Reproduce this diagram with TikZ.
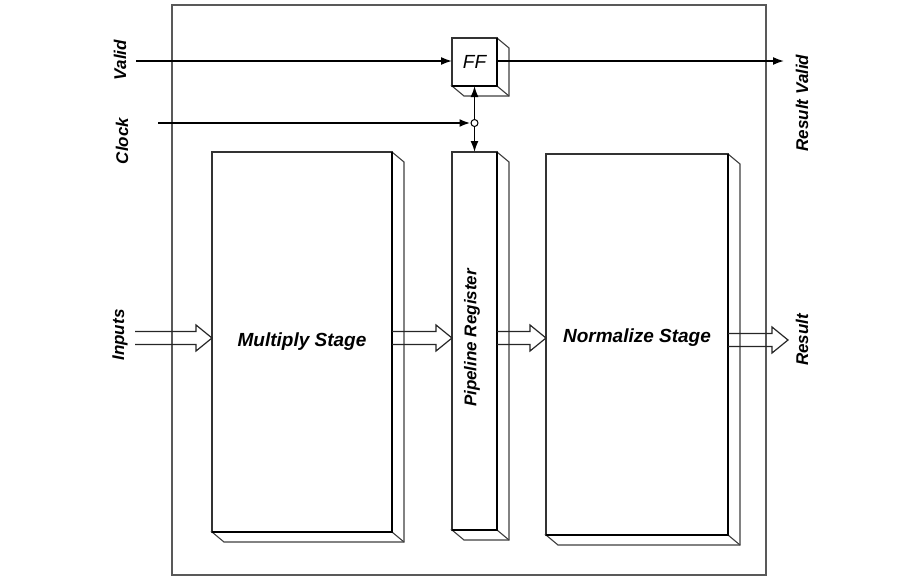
\documentclass[tikz,border=0pt]{standalone}
\usepackage{fontspec}
\setmainfont{Liberation Sans}
\usetikzlibrary{arrows.meta,calc}
\newcommand\threeDside[1]{%
  \draw[side] (#1.north east) -- ++(12,10) -- ($(#1.south east)+(12,10)$) -- ($(#1.south west)+(12,10)$) -- (#1.south west) -- (#1.south east) -- cycle;
  \draw[side] (#1.south east) -- ++(12,10);
  \draw[line width=0.9pt] (#1.north east) -- (#1.south east) -- (#1.south west);
}
\newcommand\hollowarrow[2]{%
  \draw[bus] ($(#1)+(0,-6.5)$) -- ($(#2)+(-16,-6.5)$) -- ($(#2)+(-16,-13)$) -- (#2) -- ($(#2)+(-16,13)$) -- ($(#2)+(-16,6.5)$) -- ($(#1)+(0,6.5)$);
}
\begin{document}
\begin{tikzpicture}[x=0.5pt,y=-0.5pt,
  lbl/.style={font=\fontsize{8.5}{10}\selectfont\bfseries\itshape, inner sep=0, rotate=90},
  stagetxt/.style={font=\fontsize{9.5}{11}\selectfont\bfseries\itshape, inner sep=0},
  face/.style={draw=black!80, line width=0.6pt, fill=white, inner sep=0, outer sep=0},
  side/.style={draw=black!75, line width=0.55pt, fill=white},
  sig/.style={line width=0.8pt, -{Latex[length=5.5pt,width=4pt]}},
  bus/.style={line width=0.6pt, black!85},
]
\useasboundingbox (0,0) rectangle (910,579);
\node[draw=black!65, line width=0.7pt, minimum width=297pt, minimum height=285pt, inner sep=0] (outer) at (469,290) {};

% blocks
\node[face, minimum width=90pt, minimum height=190pt] (mult) at (302,342) {};
\threeDside{mult}
\node[face, minimum width=22.5pt, minimum height=189pt] (reg) at (474.5,341) {};
\threeDside{reg}
\node[face, minimum width=91pt, minimum height=190.5pt] (norm) at (637,344.5) {};
\threeDside{norm}
\node[face, minimum width=22.5pt, minimum height=24pt] (ff) at (474.5,62) {};
\threeDside{ff}

% texts in blocks
\node[stagetxt] (multtxt) at (mult) {Multiply Stage};
\node[stagetxt, font=\fontsize{8.5}{10}\selectfont\bfseries\itshape, rotate=90] (regtxt) at (472,338) {Pipeline Register};
\node[stagetxt] (normtxt) at (637,338) {Normalize Stage};
\node[font=\fontsize{9.5}{11}\selectfont\itshape, inner sep=0] (fftxt) at (ff) {FF};

% outside labels
\node[lbl] (lvalid) at (120,60) {Valid};
\node[lbl] (lclock) at (122,141) {Clock};
\node[lbl] (linputs) at (120,335) {Inputs};
\node[lbl] (lresv) at (802,103) {Result Valid};
\node[lbl] (lres) at (802,340) {Result};

% control signals
\coordinate (vin) at (136,61);
\coordinate (vout) at (784,61);
\draw[sig] (vin) -- (ff.west |- vin);
\draw[sig] (ff.east |- vout) -- (vout);
\coordinate (clk) at (158,123);
\draw[line width=0.8pt, {Latex[length=5.5pt,width=4pt]}-{Latex[length=5.5pt,width=4pt]}] (ff.south) -- (reg.north);
\node[circle, draw, line width=0.5pt, fill=white, minimum size=3.5pt, inner sep=0] (jn) at (reg.north |- clk) {};
\draw[sig, line width=1.2pt] (clk) -- (jn.west);

% data buses
\coordinate (inA) at (135,338);
\hollowarrow{inA}{mult.west |- inA}
\hollowarrow{mult.east |- inA}{reg.west |- inA}
\hollowarrow{reg.east |- inA}{norm.west |- inA}
\coordinate (resA) at (788,340);
\hollowarrow{norm.east |- resA}{resA}
\end{tikzpicture}
\end{document}
